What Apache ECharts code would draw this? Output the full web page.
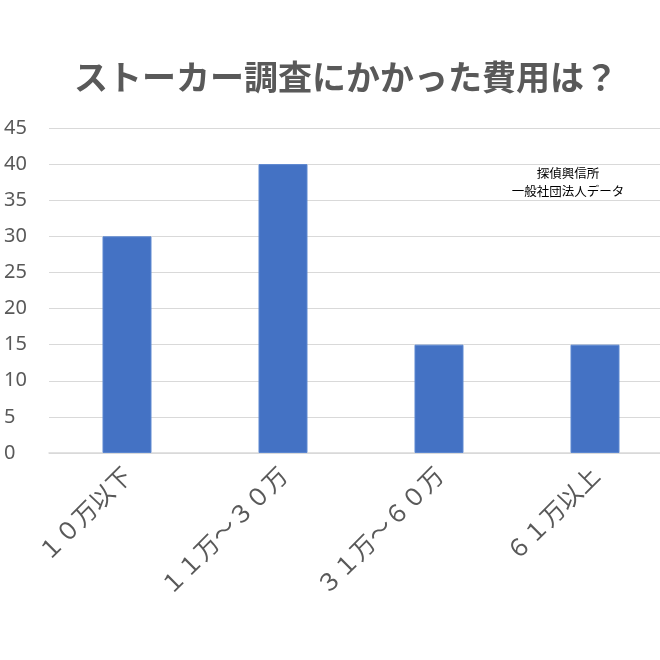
<!DOCTYPE html>
<html><head><meta charset="utf-8">
<script src="https://cdn.jsdelivr.net/npm/echarts@6/dist/echarts.min.js"></script>
<style>html,body{margin:0;padding:0;background:#fff}#c{width:660px;height:660px}</style>
</head><body><div id="c"></div>
<script>
const titleText = 'ストーカー調査にかかった費用は？';
const categories = ['１０万以下', '１１万～３０万', '３１万～６０万', '６１万以上'];
const values = [30, 40, 15, 15];
const noteLines = ['探偵興信所', '一般社団法人データ'];

const chart = echarts.init(document.getElementById('c'));
chart.setOption({
  animation: false,
  backgroundColor: '#fff',
  title: {
    text: titleText, left: 69, top: 55,
    textStyle: { fontFamily: 'Noto Sans CJK JP', fontSize: 34, fontWeight: 'bold', color: '#595959' }
  },
  graphic: [{
    type: 'text', x: 568, y: 164,
    style: { text: noteLines.join('\n'), fontFamily: 'Noto Sans CJK JP', fontSize: 12.5, fill: '#000', align: 'center', lineHeight: 18 }
  }],
  grid: { left: 49, width: 624, top: 128, bottom: 207, outerBoundsMode: 'none', containLabel: false },
  xAxis: {
    type: 'category', data: categories,
    axisLine: { lineStyle: { color: '#d9d9d9', width: 1.5 } },
    axisTick: { show: false },
    axisLabel: { rotate: 45, margin: 18, fontFamily: 'Noto Sans CJK JP', fontSize: 24, color: '#595959' }
  },
  yAxis: {
    type: 'value', min: 0, max: 45, interval: 5,
    axisLine: { show: false }, axisTick: { show: false },
    splitLine: { lineStyle: { color: '#d9d9d9', width: 1 } },
    axisLabel: { margin: 12, fontFamily: 'Noto Sans', fontSize: 20, color: '#595959', align: 'left', padding: [0, 0, 0, -33] }
  },
  series: [{
    type: 'bar', data: values, barWidth: '31.4%',
    itemStyle: { color: '#4472C4', borderColor: '#5b86d0', borderWidth: 1 }
  }]
});
</script></body></html>
